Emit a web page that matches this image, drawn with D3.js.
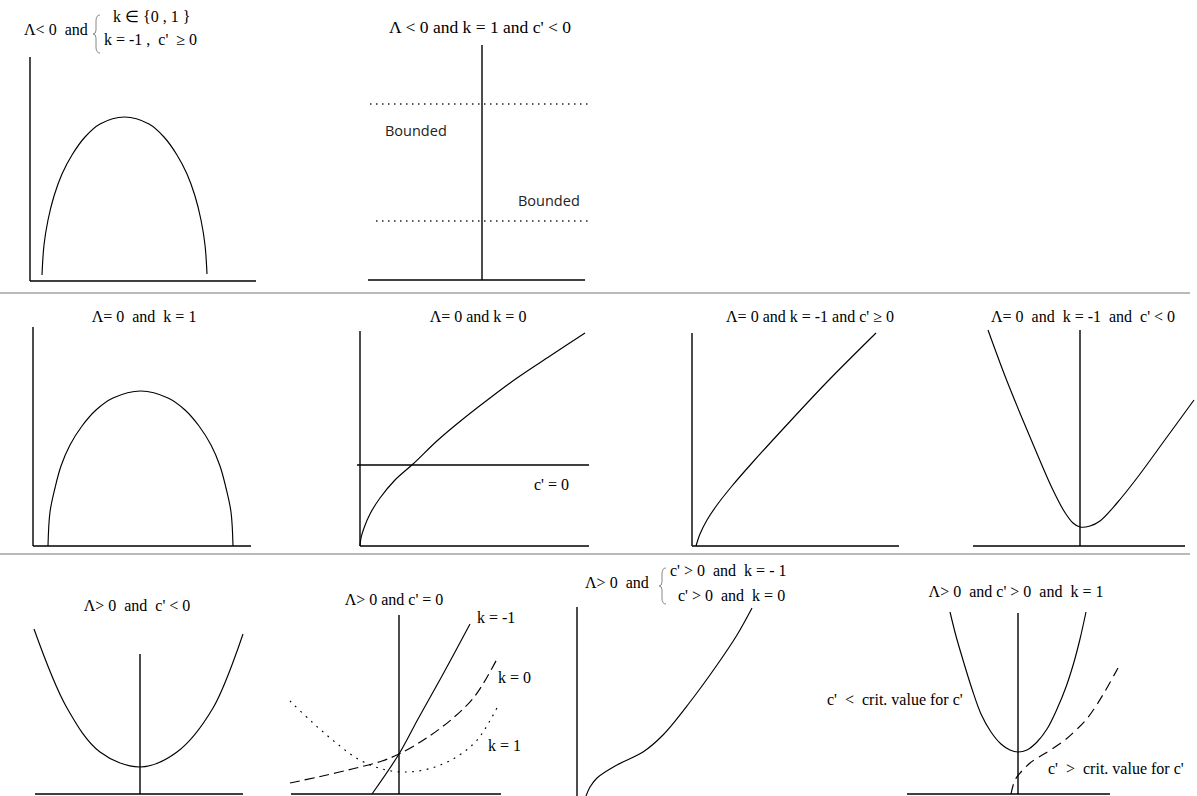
<!DOCTYPE html>
<meta charset="utf-8">
<style>
body { margin: 0; background: #fff; }
svg { display: block; background: #fff; }
.axis { stroke: #000; stroke-width: 1.4; }
.curve { fill: none; stroke: #000; stroke-width: 1.15; }
.sep { stroke: #a3a3a3; stroke-width: 1.5; }
.brace { fill: none; stroke: #888; stroke-width: 1; }
.serif { font-family: "Liberation Serif", "Times New Roman", serif; font-size: 16px; fill: #000; }
.big { font-size: 17.5px; }
.sans { font-family: "Open Sans", "Noto Sans", sans-serif; font-size: 14.5px; fill: #222; }
</style>

<svg width="1197" height="796"></svg>

<script src="https://d3js.org/d3.v7.min.js"></script>
<script>
var lambdaNegClosed = [[12,6],[14,36],[18,61],[24,85],[32,107],[42,126],[55,144],[70,157],[94.5,164],[119,157],[134,144],[147,126],[157,107],[165,85],[171,61],[175,36],[177,7]];
var boundedLevels = [176, 59];

var lambdaZeroK1 = [[15,0],[17,34],[22,58],[28,80],[37,101],[49,120],[63,136],[80,148],[108,155],[135,148],[152,136],[166,120],[178,101],[187,80],[193,58],[198,34],[200,0]];
var lambdaZeroK0 = [[0,0],[1,8],[4,18],[10,32],[20,48],[35,66],[53,82],[78,106],[103,127],[130,148],[157,168],[190,190],[225,213]];
var cZeroLevel = 81;
var lambdaZeroKm1Pos = [[4,0],[8,12],[15,26],[25,41],[40,60],[60,83],[91,117],[135,164],[184,213]];
var lambdaZeroKm1Neg = [[-92,216],[-75,170],[-58,128],[-42,90],[-28,58],[-16,35],[-7,23],[0,19],[10,20],[20,25],[37,43],[57,68],[87,109],[114,146]];

var lambdaPosCNeg = [[-106,165],[-73,86],[-40,42],[0,27],[37,42],[73,86],[103,160]];
var cZeroKm1 = [[-27,0],[0,40],[19,75],[43,118],[71,170]];
var cZeroK0 = [[-109,11],[-81,17],[-47,25],[-17,33],[0,40],[26,55],[53,75],[76,98],[98,135]];
var cZeroK1 = [[-109,93],[-87,72],[-64,52],[-41,35],[-17,25],[9,22],[36,27],[59,38],[79,55],[99,88]];
var lambdaPosCPos = [[9,0],[13,9],[20,18],[40,31],[66,44],[86,61],[113,94],[140,131],[160,161],[175,188]];
var belowCrit = [[-68,182],[-62,158],[-55,134],[-46,105],[-37,80],[-27,62],[-17,50],[-8,44],[0,42],[9,44],[19,52],[29,65],[39,85],[48,107],[56,132],[62,155],[68,182]];
var aboveCrit = [[-7,0],[-3,14],[3,22],[12,31],[21,37],[34,45],[47,54],[57,63],[67,73],[76,85],[86,101],[100,126]];

var titles = [
    "Λ< 0  and", "k ∈ {0 , 1 }", "k = -1 ,  c'  ≥ 0",
    "Λ < 0 and k = 1 and c' < 0", "Bounded", "Bounded",
    "Λ= 0  and  k = 1", "Λ= 0 and k = 0", "c' = 0",
    "Λ= 0 and k = -1 and c' ≥ 0", "Λ= 0  and  k = -1  and  c' < 0",
    "Λ> 0  and  c' < 0", "Λ> 0 and c' = 0", "k = -1", "k = 0", "k = 1",
    "Λ> 0  and", "c' > 0  and  k = - 1", "c' > 0  and  k = 0",
    "Λ> 0  and c' > 0  and  k = 1", "c'  <  crit. value for c'", "c'  >  crit. value for c'"
];

var svg = d3.select("svg");

svg.selectAll("line.sep")
    .data([293, 554])
    .enter().append("line")
    .attr("class", "sep")
    .attr("x1", 0).attr("x2", 1190)
    .attr("y1", function(d) { return d; })
    .attr("y2", function(d) { return d; });

var panels = [
    { ox: 30, oy: 281, h: [0, 226], v: [0, 224], curves: [{ pts: lambdaNegClosed }] },
    { ox: 482, oy: 280, h: [-114, 103], v: [0, 235], curves: [], dotted: boundedLevels, dotX: [[-112, 108], [-106, 110]] },
    { ox: 33, oy: 546, h: [0, 218], v: [0, 219], curves: [{ pts: lambdaZeroK1 }] },
    { ox: 360, oy: 546, h: [0, 229], v: [0, 215], curves: [{ pts: lambdaZeroK0 }], level: cZeroLevel },
    { ox: 692, oy: 546, h: [0, 207], v: [0, 213], curves: [{ pts: lambdaZeroKm1Pos }] },
    { ox: 1080, oy: 546, h: [-107, 105], v: [0, 216], curves: [{ pts: lambdaZeroKm1Neg }] },
    { ox: 140, oy: 794, h: [-105, 103], v: [0, 140], curves: [{ pts: lambdaPosCNeg }] },
    { ox: 399, oy: 794, h: [-108, 102], v: [0, 179], curves: [
        { pts: cZeroKm1 },
        { pts: cZeroK0, dash: "10,5" },
        { pts: cZeroK1, dash: "1.8,5.5", width: 1.5 }
    ] },
    { ox: 577, oy: 796, h: null, v: [-2, 189], curves: [{ pts: lambdaPosCPos }] },
    { ox: 1018, oy: 794, h: [-111, 92], v: [0, 181], curves: [
        { pts: belowCrit },
        { pts: aboveCrit, dash: "10,6", width: 1.3 }
    ] }
];

panels.forEach(function(p) {
    var x = d3.scaleLinear().domain([0, 100]).range([p.ox, p.ox + 100]);
    var y = d3.scaleLinear().domain([0, 100]).range([p.oy, p.oy - 100]);
    var g = svg.append("g");

    if (p.h) {
        g.append("line").attr("class", "axis")
            .attr("x1", x(p.h[0])).attr("x2", x(p.h[1]))
            .attr("y1", y(0)).attr("y2", y(0));
    }
    g.append("line").attr("class", "axis")
        .attr("x1", x(0)).attr("x2", x(0))
        .attr("y1", y(p.v[0])).attr("y2", y(p.v[1]));

    if (p.level != null) {
        g.append("line").attr("class", "axis").attr("stroke-width", 1.2)
            .attr("x1", x(-3)).attr("x2", x(p.h[1]))
            .attr("y1", y(p.level)).attr("y2", y(p.level));
    }

    if (p.dotted) {
        g.selectAll("line.dot")
            .data(p.dotted)
            .enter().append("line")
            .attr("class", "dot")
            .attr("stroke", "#222")
            .attr("stroke-width", 1.3)
            .attr("stroke-dasharray", "1.5,4.5")
            .attr("x1", function(d, i) { return x(p.dotX[i][0]); })
            .attr("x2", function(d, i) { return x(p.dotX[i][1]); })
            .attr("y1", function(d) { return y(d); })
            .attr("y2", function(d) { return y(d); });
    }

    var line = d3.line()
        .x(function(d) { return x(d[0]); })
        .y(function(d) { return y(d[1]); })
        .curve(d3.curveCatmullRom.alpha(0.5));

    p.curves.forEach(function(c) {
        g.append("path")
            .attr("class", "curve")
            .attr("d", line(c.pts))
            .attr("stroke-width", c.width || null)
            .attr("stroke-dasharray", c.dash || null);
    });
});

// text placement: [x, baseline y, anchor, class]
var textPos = [
    [24, 35, "start", "serif"], [113, 22, "start", "serif"], [104, 45, "start", "serif"],
    [480, 33, "middle", "serif big"], [385, 136, "start", "sans"], [518, 206, "start", "sans"],
    [144, 322, "middle", "serif"], [478, 322, "middle", "serif"], [534, 490, "start", "serif"],
    [810, 322, "middle", "serif"], [1083, 322, "middle", "serif"],
    [137, 611, "middle", "serif"], [394, 605, "middle", "serif"],
    [477, 623, "start", "serif"], [498, 683, "start", "serif"], [488, 751, "start", "serif"],
    [585, 588, "start", "serif"], [670, 576, "start", "serif"], [678, 601, "start", "serif"],
    [1016, 597, "middle", "serif"], [827, 705, "start", "serif"], [1048, 774, "start", "serif"]
];

svg.selectAll("text.lbl")
    .data(titles)
    .enter().append("text")
    .attr("class", function(d, i) { return "lbl " + textPos[i][3]; })
    .attr("x", function(d, i) { return textPos[i][0]; })
    .attr("y", function(d, i) { return textPos[i][1]; })
    .attr("text-anchor", function(d, i) { return textPos[i][2]; })
    .style("white-space", "pre")
    .text(function(d) { return d; });

// left braces of the two-line conditions
function brace(x0, y1, y2) {
    var ym = (y1 + y2) / 2;
    return "M" + (x0 + 4) + "," + y1 +
        "Q" + x0 + "," + y1 + " " + x0 + "," + (y1 + 6) +
        "L" + x0 + "," + (ym - 4) +
        "Q" + x0 + "," + ym + " " + (x0 - 3) + "," + ym +
        "Q" + x0 + "," + ym + " " + x0 + "," + (ym + 4) +
        "L" + x0 + "," + (y2 - 6) +
        "Q" + x0 + "," + y2 + " " + (x0 + 4) + "," + y2;
}
svg.selectAll("path.brace")
    .data([[96, 15, 53], [662, 568, 604]])
    .enter().append("path")
    .attr("class", "brace")
    .attr("d", function(d) { return brace(d[0], d[1], d[2]); });
</script>
